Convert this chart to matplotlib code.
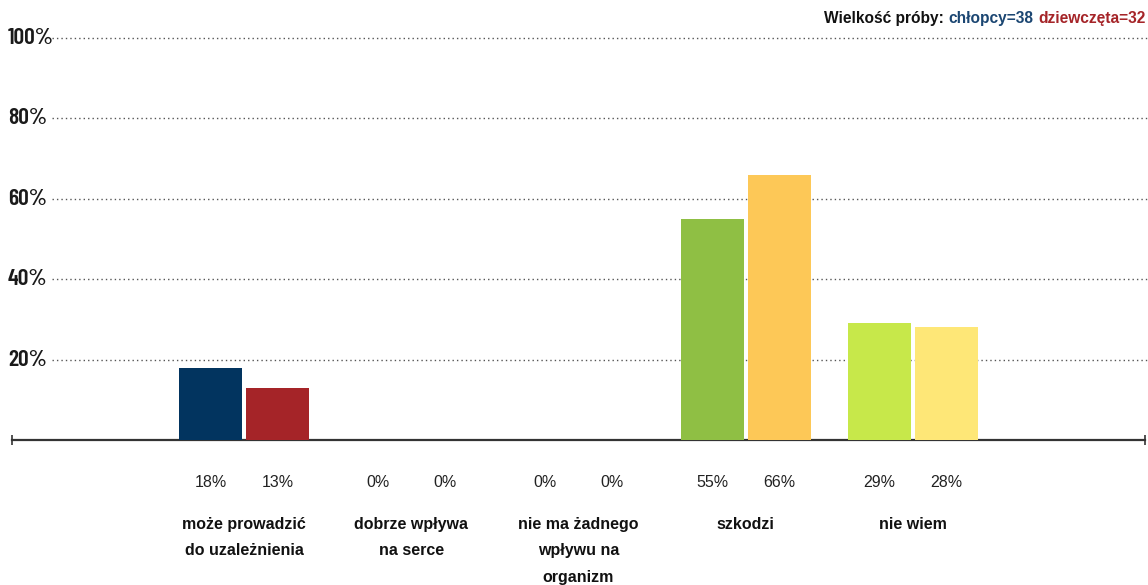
import matplotlib
matplotlib.use('Agg')
import matplotlib.pyplot as plt
import numpy as np

# survey answers, boys vs girls (%)
categories = ['może prowadzić\ndo uzależnienia', 'dobrze wpływa\nna serce',
              'nie ma żadnego\nwpływu na\norganizm', 'szkodzi', 'nie wiem']
boys = [18, 0, 0, 55, 29]
girls = [13, 0, 0, 66, 28]
boys_colors = ['#02345F', '#02345F', '#02345F', '#8FBF44', '#C7E84A']
girls_colors = ['#A52428', '#A52428', '#A52428', '#FDC857', '#FEE777']
yticks = [20, 40, 60, 80, 100]
ytick_labels = ['20%', '40%', '60%', '80%', '100%']

plt.rcParams['font.family'] = ['Liberation Sans', 'DejaVu Sans']

fig = plt.figure(figsize=(11.48, 5.85), dpi=100)
W, H = 1148, 585
ax = fig.add_axes([12 / W, (H - 440) / H, 1133 / W, 402 / H])

x = np.arange(len(categories))
off = 0.2
bw = 0.377
ax.bar(x - off, boys, width=bw, color=boys_colors, zorder=3)
ax.bar(x + off, girls, width=bw, color=girls_colors, zorder=3)

ax.set_xlim(-1.39, 5.39)
ax.set_ylim(0, 100)

# dotted gridlines, starting after the labels
for yv in yticks:
    ax.axhline(yv, xmin=0.035, xmax=1.01, color='#555555', lw=1.0,
               ls=(0, (1, 2.2)), zorder=1, clip_on=False)

cond = ['Barlow Condensed', 'Archivo Narrow', 'DejaVu Sans']
for yv, lab in zip(yticks, ytick_labels):
    ax.text(-0.0035, yv, lab, transform=ax.get_yaxis_transform(),
            ha='left', va='center', fontsize=17, family=cond,
            fontweight='semibold', color='#1a1a1a')

for s in ['top', 'right', 'left']:
    ax.spines[s].set_visible(False)
ax.spines['bottom'].set_color('#333333')
ax.spines['bottom'].set_linewidth(1.6)
ax.set_yticks([])
ax.set_xticks([-1.39, 5.39])
ax.set_xticklabels([])
ax.tick_params(axis='x', direction='inout', length=7, width=1.2, color='#333333')

# value labels + category names under the axis
for i in range(len(categories)):
    for xx, v in [(x[i] - off, boys[i]), (x[i] + off, girls[i])]:
        ax.annotate(f'{v}%', xy=(xx, 0), xytext=(0, -30.5), textcoords='offset points',
                    ha='center', va='center', fontsize=11.5, color='#222222')
    ax.annotate(categories[i], xy=(x[i], 0), xytext=(0, -55.5), textcoords='offset points',
                ha='center', va='top', fontsize=11.5, fontweight='bold',
                color='#111111', linespacing=1.95, multialignment='center')

# sample size header
t3 = fig.text(1146 / W, 1 - 18 / H, 'dziewczęta=32', ha='right', va='center',
              fontsize=11.2, fontweight='bold', color='#A52428')
t2 = ax.annotate('chłopcy=38', xy=(0, 0.5), xycoords=t3, xytext=(-3.5, 0),
                 textcoords='offset points', ha='right', va='center',
                 fontsize=11.2, fontweight='bold', color='#1B4672')
ax.annotate('Wielkość próby:', xy=(0, 0.5), xycoords=t2, xytext=(-3.5, 0),
            textcoords='offset points', ha='right', va='center',
            fontsize=11.2, fontweight='bold', color='#111111')

fig.savefig('out.png', dpi=100)
